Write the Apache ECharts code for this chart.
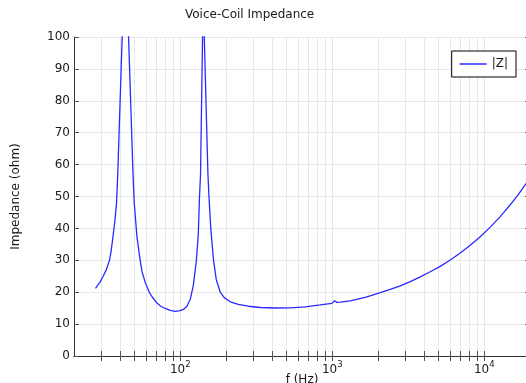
<!DOCTYPE html>
<html>
<head>
<meta charset="utf-8">
<script src="https://cdn.jsdelivr.net/npm/echarts@6/dist/echarts.min.js"></script>
<style>
  html, body { margin: 0; padding: 0; background: #fff; }
  #chart01 { width: 526px; height: 383px; }
</style>
</head>
<body>
<div id="chart01"></div>
<script>
// frequency (Hz) and |Z| (ohm)
var freq = [27.7, 29.8, 31.1, 32.6, 34.3, 35.2, 36.1, 37.1, 38.1, 38.8, 41.5, 43.5, 45.7, 48.9, 49.8, 51.9, 54.3, 56.0, 58.9, 62.8,
    65.4, 70.3, 74.4, 79.7, 86.0, 92.7, 100, 105.1, 110.7, 116.4, 121.8, 127.4, 131.4, 133.9, 136.0, 140.2, 142.1, 143.9,
    152.1, 154.5, 158.8, 165.6, 172.5, 183.3, 194.8, 213.3, 240.8, 280.2, 336.0, 421.7, 529.4, 664.3, 833.8, 995.5,
    1035, 1074, 1129, 1313, 1649, 1999, 2407, 2802, 3260, 3793, 4413, 5135, 5974, 6951, 8088, 9412, 10951, 12742,
    14826, 16738, 18893, 20000];
var impedance = [21.2, 23.3, 25.0, 27.0, 30.1, 33.3, 37.4, 42.0, 48.0, 57.0, 100, 300, 100, 57.0, 48.0, 37.4, 30.5, 26.5, 23.0, 19.8,
    18.5, 16.6, 15.6, 14.9, 14.3, 14.0, 14.2, 14.6, 15.6, 17.8, 22.0, 29.5, 38.0, 50.0, 57.0, 100, 400, 100,
    57.0, 50.0, 40.0, 30.0, 24.0, 20.0, 18.3, 17.0, 16.2, 15.6, 15.2, 15.05, 15.1, 15.4, 16.0, 16.5,
    17.3, 16.8, 16.9, 17.3, 18.4, 19.6, 20.9, 22.0, 23.3, 24.8, 26.4, 28.1, 30.1, 32.3, 34.7, 37.4, 40.4, 43.7,
    47.4, 50.6, 54.1, 55.9];

var xMin = 20, xMax = 20000;
var xTickValues = [30, 40, 50, 60, 70, 80, 90, 100, 200, 300, 400, 500, 600, 700, 800, 900,
    1000, 2000, 3000, 4000, 5000, 6000, 7000, 8000, 9000, 10000];
var xLabelValues = [100, 1000, 10000];
var yMin = 0, yMax = 100, yStep = 10;

var lineData = [];
for (var i = 0; i < freq.length; i++) {
    lineData.push([freq[i], impedance[i]]);
}

var font = 'DejaVu Sans';
var txt = '#1a1a1a';
var frame = '#333';
var tickCol = '#555';
var gridCol = '#e8e8e8';

var myChart = echarts.init(document.getElementById('chart01'));
var option = {
    animation: false,
    backgroundColor: '#fff',
    title: {
        text: 'Voice-Coil Impedance',
        left: 185,
        top: 9,
        padding: 0,
        textStyle: { fontFamily: font, fontSize: 12, fontWeight: 'normal', color: txt }
    },
    legend: {
        right: 10,
        top: 51,
        padding: [7, 8, 7, 8],
        borderColor: '#000',
        borderWidth: 1,
        borderRadius: 0,
        backgroundColor: '#fff',
        icon: 'rect',
        itemWidth: 27,
        itemHeight: 1.5,
        textStyle: { fontFamily: font, fontSize: 12, color: txt },
        data: ['|Z|']
    },
    grid: { left: 74, top: 37, right: -4, bottom: 27, containLabel: false, outerBoundsMode: 'none' },
    xAxis: [{
        type: 'log',
        logBase: 10,
        min: xMin,
        max: xMax,
        position: 'bottom',
        name: 'f (Hz)',
        nameLocation: 'middle',
        nameGap: 18,
        nameMoveOverlap: false,
        nameTextStyle: { fontFamily: font, fontSize: 12, color: txt },
        axisLine: { show: true, lineStyle: { color: frame, width: 1 } },
        axisTick: { show: true, inside: true, length: 5, customValues: xTickValues, lineStyle: { color: tickCol } },
        minorTick: { show: false },
        axisLabel: {
            customValues: xLabelValues,
            margin: 4,
            formatter: function (v) {
                var e = Math.round(Math.log(v) / Math.LN10);
                return '{b|10}{s|' + e + '}';
            },
            rich: {
                b: { fontFamily: font, fontSize: 12, lineHeight: 16, color: txt, verticalAlign: 'bottom' },
                s: { fontFamily: font, fontSize: 8.5, lineHeight: 10, color: txt, verticalAlign: 'top' }
            }
        },
        splitLine: { show: true, lineStyle: { color: gridCol, width: 1 } }
    }, {
        type: 'log',
        logBase: 10,
        min: xMin,
        max: xMax,
        position: 'top',
        axisLine: { show: true, lineStyle: { color: frame, width: 1 } },
        axisTick: { show: true, inside: true, length: 5, customValues: xTickValues, lineStyle: { color: tickCol } },
        axisLabel: { show: false },
        splitLine: { show: false }
    }],
    yAxis: [{
        type: 'value',
        min: yMin,
        max: yMax,
        interval: yStep,
        position: 'left',
        name: 'Impedance (ohm)',
        nameLocation: 'middle',
        nameGap: 52,
        nameTextStyle: { fontFamily: font, fontSize: 12, color: txt },
        axisLine: { show: true, lineStyle: { color: frame, width: 1 } },
        axisTick: { show: true, inside: true, length: 5, lineStyle: { color: tickCol } },
        axisLabel: { margin: 4, fontFamily: font, fontSize: 12, color: txt },
        splitLine: { show: true, lineStyle: { color: gridCol, width: 1 } }
    }, {
        type: 'value',
        min: yMin,
        max: yMax,
        interval: yStep,
        position: 'right',
        axisLine: { show: true, lineStyle: { color: frame, width: 1 } },
        axisTick: { show: true, inside: true, length: 5, lineStyle: { color: tickCol } },
        axisLabel: { show: false },
        splitLine: { show: false }
    }],
    series: [{
        name: '|Z|',
        type: 'line',
        xAxisIndex: 0,
        yAxisIndex: 0,
        showSymbol: false,
        symbol: 'none',
        clip: true,
        lineStyle: { color: '#2a2aff', width: 1.3 },
        itemStyle: { color: '#2a2aff' },
        data: lineData
    }]
};
myChart.setOption(option);
</script>
</body>
</html>
